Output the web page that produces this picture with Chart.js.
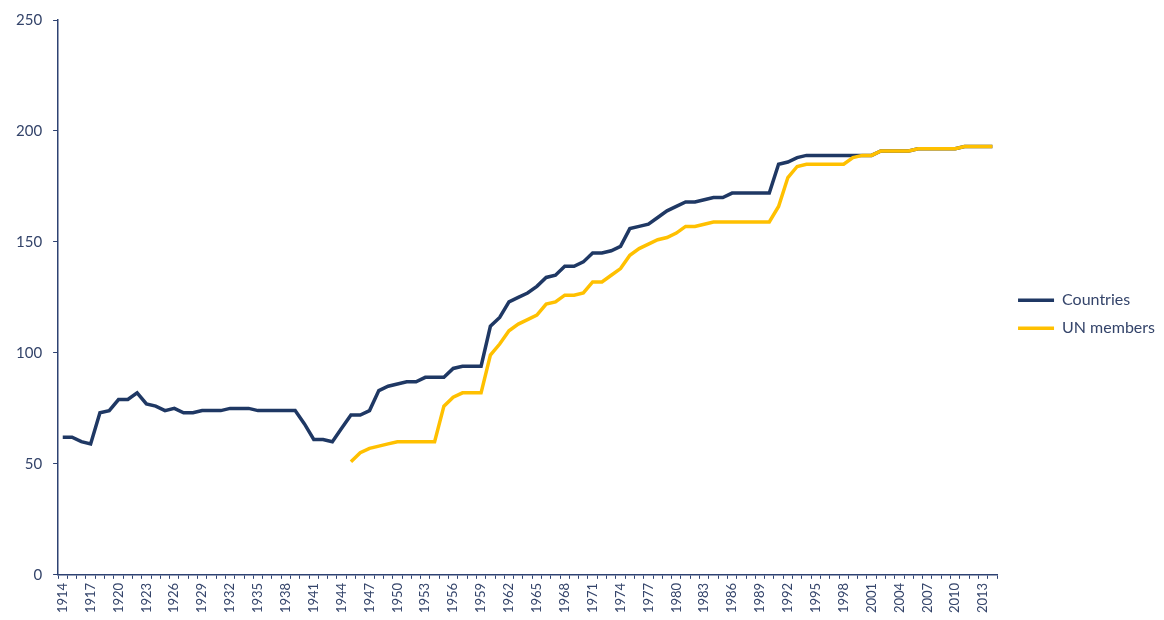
<!DOCTYPE html>
<html>
<head>
<meta charset="utf-8">
<script src="https://cdn.jsdelivr.net/npm/chart.js@4"></script>
<style>
  html, body { margin: 0; padding: 0; background: #fff; }
  #wrap { width: 1164px; height: 620px; position: relative; }
</style>
</head>
<body>
<div id="wrap"><canvas id="lineChart"></canvas></div>
<script>
// years 1914 - 2014
var years = ['1914','1915','1916','1917','1918','1919','1920','1921','1922','1923',
  '1924','1925','1926','1927','1928','1929','1930','1931','1932','1933',
  '1934','1935','1936','1937','1938','1939','1940','1941','1942','1943',
  '1944','1945','1946','1947','1948','1949','1950','1951','1952','1953',
  '1954','1955','1956','1957','1958','1959','1960','1961','1962','1963',
  '1964','1965','1966','1967','1968','1969','1970','1971','1972','1973',
  '1974','1975','1976','1977','1978','1979','1980','1981','1982','1983',
  '1984','1985','1986','1987','1988','1989','1990','1991','1992','1993',
  '1994','1995','1996','1997','1998','1999','2000','2001','2002','2003',
  '2004','2005','2006','2007','2008','2009','2010','2011','2012','2013','2014'];

// labelled years on the x axis
var tickYears = ['1914','1917','1920','1923','1926','1929','1932','1935','1938','1941',
  '1944','1947','1950','1953','1956','1959','1962','1965','1968','1971','1974','1977',
  '1980','1983','1986','1989','1992','1995','1998','2001','2004','2007','2010','2013'];

var countries = [62, 62, 60, 59, 73, 74, 79, 79, 82, 77,
  76, 74, 75, 73, 73, 74, 74, 74, 75, 75,
  75, 74, 74, 74, 74, 74, 68, 61, 61, 60,
  66, 72, 72, 74, 83, 85, 86, 87, 87, 89,
  89, 89, 93, 94, 94, 94, 112, 116, 123, 125,
  127, 130, 134, 135, 139, 139, 141, 145, 145, 146,
  148, 156, 157, 158, 161, 164, 166, 168, 168, 169,
  170, 170, 172, 172, 172, 172, 172, 185, 186, 188,
  189, 189, 189, 189, 189, 189, 189, 189, 191, 191,
  191, 191, 192, 192, 192, 192, 192, 193, 193, 193, 193];

var unMembers = [null, null, null, null, null, null, null, null, null, null,
  null, null, null, null, null, null, null, null, null, null,
  null, null, null, null, null, null, null, null, null, null,
  null, 51, 55, 57, 58, 59, 60, 60, 60, 60,
  60, 76, 80, 82, 82, 82, 99, 104, 110, 113,
  115, 117, 122, 123, 126, 126, 127, 132, 132, 135,
  138, 144, 147, 149, 151, 152, 154, 157, 157, 158,
  159, 159, 159, 159, 159, 159, 159, 166, 179, 184,
  185, 185, 185, 185, 185, 188, 189, 189, 191, 191,
  191, 191, 192, 192, 192, 192, 192, 193, 193, 193, 193];

var yTicks = [0, 50, 100, 150, 200, 250];

var navy = '#1f3864';
var gold = '#ffc000';
var axisColor = '#2e4272';
var textColor = '#34446a';

// push the legend a little away from the plot, as in the original
var legendShift = {
  id: 'legendShift',
  afterUpdate: function(chart) {
    var lg = chart.legend;
    if (!lg) return;
    lg.left += 9;
    lg.right += 9;
    lg.legendHitBoxes.forEach(function(h) { h.left += 9; });
  }
};

var ctx = document.getElementById('lineChart').getContext('2d');
new Chart(ctx, {
  type: 'line',
  data: {
    labels: years,
    datasets: [{
      label: 'Countries',
      data: countries,
      borderColor: navy,
      backgroundColor: navy,
      borderWidth: 3.5,
      pointRadius: 0,
      tension: 0,
      order: 2
    }, {
      label: 'UN members',
      data: unMembers,
      borderColor: gold,
      backgroundColor: gold,
      borderWidth: 3.5,
      pointRadius: 0,
      tension: 0,
      order: 1
    }]
  },
  plugins: [legendShift],
  options: {
    responsive: true,
    maintainAspectRatio: false,
    animation: false,
    layout: { padding: { left: 5, right: 8, top: 6, bottom: 3 } },
    plugins: {
      tooltip: { enabled: false },
      legend: {
        position: 'right',
        title: { display: true, text: '', padding: 1, font: { size: 3 } },
        labels: {
          usePointStyle: true,
          pointStyle: 'line',
          pointStyleWidth: 36,
          padding: 12,
          color: textColor,
          font: { family: 'Lato', size: 16 },
          sort: function(a, b) { return a.datasetIndex - b.datasetIndex; }
        }
      }
    },
    scales: {
      x: {
        offset: true,
        grid: {
          offset: true,
          drawOnChartArea: false,
          drawTicks: true,
          tickLength: 4,
          color: axisColor,
          lineWidth: 1
        },
        border: { display: true, color: axisColor, width: 1.5 },
        ticks: {
          autoSkip: false,
          minRotation: 90,
          maxRotation: 90,
          padding: 4,
          color: textColor,
          font: { family: 'Lato', size: 13 },
          callback: function(v, i) {
            var y = years[i];
            return tickYears.indexOf(y) >= 0 ? y : '';
          }
        }
      },
      y: {
        min: 0,
        max: 250,
        afterBuildTicks: function(axis) {
          axis.ticks = yTicks.map(function(v) { return { value: v }; });
        },
        grid: {
          drawOnChartArea: false,
          drawTicks: true,
          tickLength: 5,
          color: axisColor
        },
        border: { display: true, color: axisColor, width: 1.5 },
        ticks: {
          padding: 11,
          color: textColor,
          font: { family: 'Lato', size: 15 }
        }
      }
    }
  }
});
</script>
</body>
</html>
